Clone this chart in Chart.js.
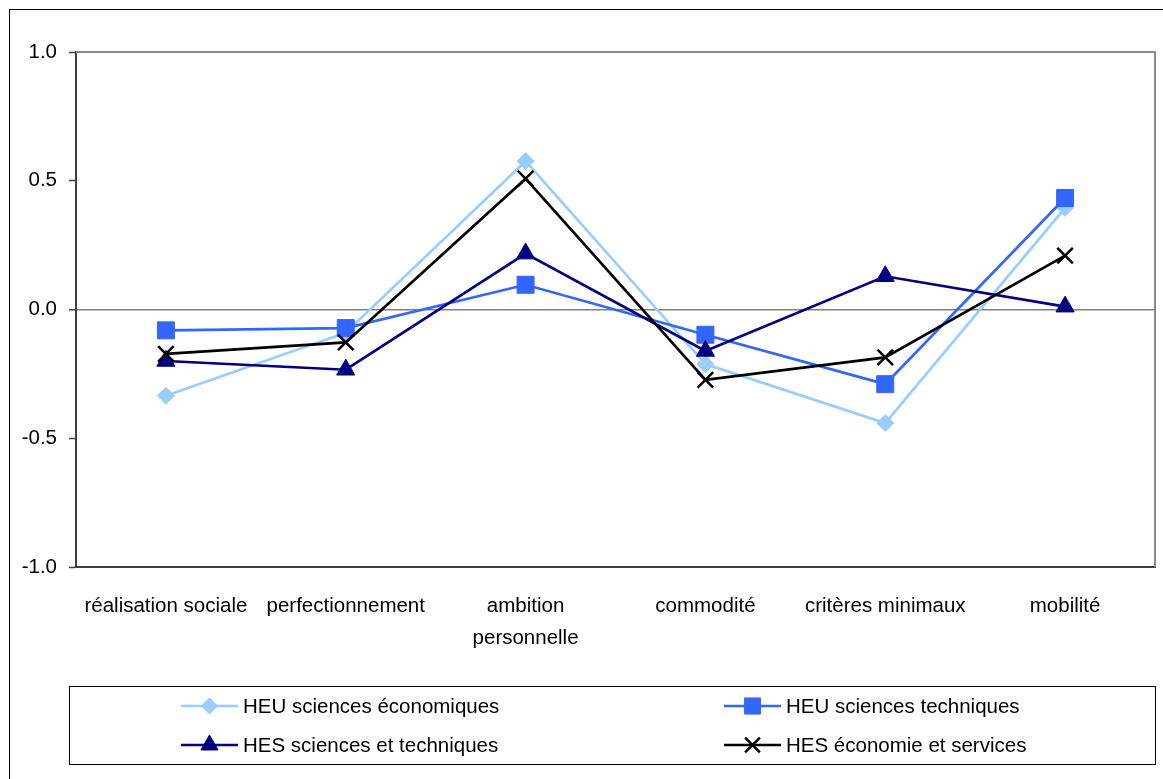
<!DOCTYPE html>
<html>
<head>
<meta charset="utf-8">
<script src="https://cdn.jsdelivr.net/npm/chart.js@4/dist/chart.umd.min.js"></script>
<style>
  html, body { margin: 0; padding: 0; background: #fff; }
  #wrap { position: relative; width: 1163px; height: 779px; overflow: hidden; }
  #frame { position: absolute; left: 9px; top: 9px; width: 1200px; height: 800px; border-left: 1px solid #000; border-top: 1px solid #000; }
  canvas { position: absolute; left: 0; top: 0; }
</style>
</head>
<body>
<div id="wrap">
  <div id="frame"></div>
  <canvas id="c" width="1163" height="779"></canvas>
</div>
<script>
// ---- data ----
const categories = ['réalisation sociale', 'perfectionnement', ['ambition', 'personnelle'], 'commodité', 'critères minimaux', 'mobilité'];
const seriesNames = ['HEU sciences économiques', 'HEU sciences techniques', 'HES sciences et techniques', 'HES économie et services'];
const heuEconomie = [-0.335, -0.09, 0.576, -0.212, -0.441, 0.395];
const heuTechniques = [-0.081, -0.072, 0.096, -0.098, -0.29, 0.433];
const hesSciences = [-0.2, -0.234, 0.217, -0.161, 0.129, 0.011];
const hesEconomie = [-0.172, -0.128, 0.508, -0.273, -0.186, 0.209];
const yTickValues = [-1, -0.5, 0, 0.5, 1];
const yTickLabels = ['-1.0', '-0.5', '0.0', '0.5', '1.0'];

const FONT = '"Liberation Sans Narrow", "Liberation Sans", Arial, sans-serif';
const FSIZE = 20.5;

const styles = [
  { color: '#99CCFF', point: 'rectRot', radius: 8.5, order: 4 },
  { color: '#3366FF', point: 'rect', radius: 12, order: 3 },
  { color: '#000080', point: 'triangle', radius: 10.5, order: 2 },
  { color: '#000000', point: 'crossRot', radius: 11, order: 1 }
];
const values = [heuEconomie, heuTechniques, hesSciences, hesEconomie];

const datasets = values.map((v, i) => ({
  label: seriesNames[i],
  data: v,
  borderColor: styles[i].color,
  backgroundColor: styles[i].color,
  pointBackgroundColor: styles[i].color,
  pointBorderColor: styles[i].color,
  pointStyle: styles[i].point,
  pointRadius: styles[i].radius,
  pointHoverRadius: styles[i].radius,
  pointBorderWidth: styles[i].point === 'crossRot' ? 2.5 : 1,
  borderWidth: 2.7,
  tension: 0,
  fill: false,
  clip: false,
  order: styles[i].order
}));

const plotFrame = {
  id: 'plotFrame',
  beforeDatasetsDraw(chart) {
    const { ctx, chartArea: a } = chart;
    ctx.save();
    ctx.strokeStyle = '#8c8c8c';
    ctx.lineWidth = 2;
    ctx.beginPath();
    ctx.moveTo(a.left, a.top);
    ctx.lineTo(a.right, a.top);
    ctx.lineTo(a.right, a.bottom);
    ctx.stroke();
    ctx.restore();
  }
};

const boxLegend = {
  id: 'boxLegend',
  afterDraw(chart) {
    const ctx = chart.ctx;
    ctx.save();
    ctx.strokeStyle = '#000';
    ctx.lineWidth = 1;
    ctx.strokeRect(69.5, 686.5, 1086, 78);
    const colX = [181, 724];
    const rowY = [706, 745];
    chart.data.datasets.forEach((ds, i) => {
      const x0 = colX[i % 2];
      const y = rowY[Math.floor(i / 2)];
      ctx.strokeStyle = ds.borderColor;
      ctx.lineWidth = 2.7;
      ctx.beginPath();
      ctx.moveTo(x0, y);
      ctx.lineTo(x0 + 57, y);
      ctx.stroke();
      ctx.fillStyle = ds.pointBackgroundColor;
      ctx.strokeStyle = ds.pointBorderColor;
      ctx.lineWidth = ds.pointBorderWidth;
      Chart.helpers.drawPoint(ctx, { pointStyle: ds.pointStyle, radius: ds.pointRadius * 0.95, rotation: 0, borderWidth: ds.pointBorderWidth }, x0 + 28.5, y);
      ctx.fillStyle = '#000';
      ctx.font = FSIZE + 'px ' + FONT;
      ctx.textBaseline = 'middle';
      ctx.textAlign = 'left';
      ctx.fillText(ds.label, x0 + 62, y + 1);
    });
    ctx.restore();
  }
};

new Chart(document.getElementById('c'), {
  type: 'line',
  data: { labels: categories, datasets },
  plugins: [plotFrame, boxLegend],
  options: {
    responsive: false,
    animation: false,
    events: [],
    layout: { autoPadding: false, padding: { left: 10, right: 8, top: 52, bottom: 0 } },
    plugins: { legend: { display: false }, tooltip: { enabled: false } },
    scales: {
      x: {
        type: 'category',
        offset: true,
        afterFit(scale) { scale.height = 212; },
        grid: { display: true, color: 'rgba(0,0,0,0)', drawTicks: true, tickLength: 23, tickColor: 'rgba(0,0,0,0)', offset: true },
        border: { display: true, color: '#404040', width: 2 },
        ticks: { color: '#000', maxRotation: 0, autoSkip: false, padding: 0, font: { family: FONT, size: FSIZE, lineHeight: 32 / FSIZE } }
      },
      y: {
        min: -1, max: 1,
        afterFit(scale) { scale.width = 66; },
        afterBuildTicks(scale) { scale.ticks = yTickValues.map(v => ({ value: v })); },
        grid: {
          color: (c) => (c.tick && c.tick.value === 0) ? '#808080' : 'rgba(0,0,0,0)',
          lineWidth: (c) => (c.tick && c.tick.value === 0) ? 1.5 : 1,
          drawTicks: true, tickLength: 7, tickColor: '#404040', tickWidth: 1.5
        },
        border: { display: true, color: '#404040', width: 2 },
        ticks: {
          color: '#000', padding: 12,
          font: { family: FONT, size: FSIZE },
          callback: (v) => yTickLabels[yTickValues.indexOf(v)]
        }
      }
    }
  }
});
</script>
</body>
</html>
